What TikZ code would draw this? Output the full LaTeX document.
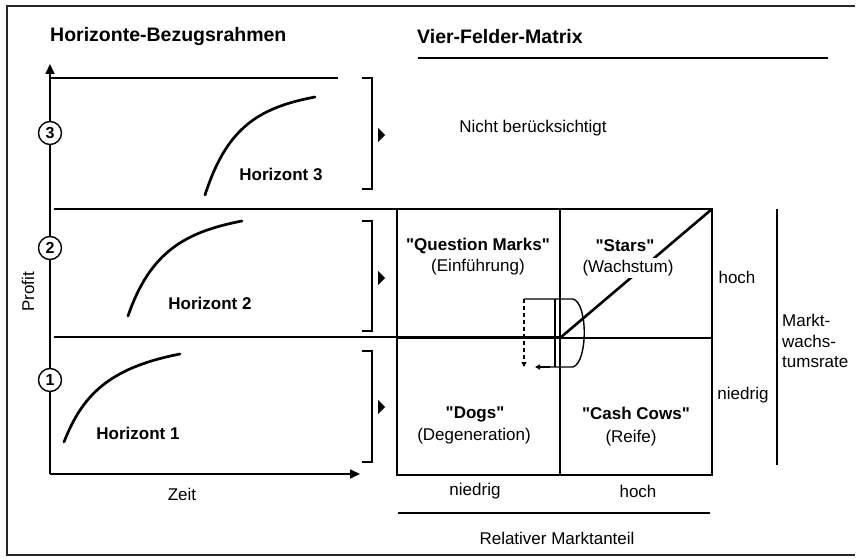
\documentclass[tikz,border=0pt]{standalone}
\usepackage{fontspec}
\setmainfont{Liberation Sans}
\usetikzlibrary{arrows.meta}
\tikzset{
  frameline/.style={line width=1.3pt, black!85},
  axisline/.style={line width=2pt, -{Triangle[length=10pt,width=9pt]}},
  thinline/.style={line width=1.3pt},
  thickline/.style={line width=2.6pt},
  curveline/.style={line width=2.7pt, line cap=round},
  bracketline/.style={line width=1.5pt},
  pointer/.style={fill=black},
  circnum/.style={circle, draw, line width=1.4pt, fill=white, inner sep=0pt, minimum size=23pt, font=\fontsize{16}{16}\selectfont\bfseries},
  lbl/.style={font=\fontsize{17}{20}\selectfont, inner sep=1pt},
  blbl/.style={font=\fontsize{17}{20}\selectfont\bfseries, inner sep=1pt},
  ttl/.style={font=\fontsize{19.5}{22}\selectfont\bfseries, inner sep=0pt, anchor=west},
  looparrow/.style={line width=1.4pt, -{Triangle[length=5pt,width=5pt]}},
}
\newcommand{\qq}[1]{\textquotedbl#1\textquotedbl}
\begin{document}
\begin{tikzpicture}[x=1pt,y=-1pt]
\useasboundingbox (0,0) rectangle (857,559);
% frame
\draw[frameline] (855,6) -- (7,6) -- (7,555) -- (855,555);
% titles
\node[ttl] (t1) at (50,37) {Horizonte-Bezugsrahmen};
\node[ttl] (t2) at (417,37) {Vier-Felder-Matrix};
\coordinate (u1) at (418,58); \coordinate (u2) at (828,58);
\draw[line width=1.7pt] (u1) -- (u2);
% axes
\coordinate (O) at (50,474);
\coordinate (Ytop) at (50,64);
\coordinate (Xend) at (360,474);
\draw[axisline] (O) -- (Ytop);
\draw[axisline] (O) -- (Xend);
\node[lbl, rotate=90] (profit) at (28,292) {Profit};
\node[lbl] (zeit) at (182,494) {Zeit};
% horizon separator lines
\draw[thinline] (50,78) -- (338,78);
\draw[thinline] (54,209) -- (712,209);
\draw[thickline] (54,337) -- (560,337);
% circled numbers
\node[circnum] (c3) at (50,133) {3};
\node[circnum] (c2) at (50,248) {2};
\node[circnum] (c1) at (50,380) {1};
% curves
\draw[curveline] (205,195) .. controls (226,130) and (256,108) .. (315,97);
\draw[curveline] (128,316) .. controls (150,252) and (185,232) .. (242,221);
\draw[curveline] (64,442) .. controls (82,396) and (108,368) .. (180,354);
\node[blbl] (h3) at (281,174) {Horizont 3};
\node[blbl] (h2) at (210,303) {Horizont 2};
\node[blbl] (h1) at (138,433) {Horizont 1};
% brackets
\draw[bracketline] (362,78) -- (372,78) -- (372,189) -- (362,189);
\draw[bracketline] (362,221) -- (372,221) -- (372,331) -- (362,331);
\draw[bracketline] (362,351) -- (372,351) -- (372,462) -- (362,462);
% pointers
\fill[pointer] (378,128) -- (385,135) -- (378,142) -- cycle;
\fill[pointer] (378,271) -- (385,278) -- (378,285) -- cycle;
\fill[pointer] (378,400) -- (385,407) -- (378,414) -- cycle;
\node[lbl] (nb) at (533,128) {Nicht berücksichtigt};
% matrix
\coordinate (mTL) at (397,209);
\coordinate (mBR) at (712,475);
\draw[thinline] (mTL) rectangle (mBR);
\draw[thinline] (560,209) -- (560,475);
\draw[thinline] (397,338) -- (712,338);
\coordinate (mc) at (560,338);
\coordinate (mtr) at (712,209);
\draw[thickline] (mc) -- (mtr);
% loop
\coordinate (lA) at (524,299);
\coordinate (lB) at (524,367);
\coordinate (lC) at (535,367);
\draw[line width=1.2pt] (555,299) -- (555,367);
\draw[line width=1.4pt] (lA) -- (573,299) .. controls (588,303) and (588,362) .. (573,367) -- (548,367);
\draw[looparrow] (550,367) -- (lC);
\draw[looparrow, dashed, dash pattern=on 4pt off 3pt] (lA) -- (lB);
% matrix labels
\node[blbl] (qm) at (478,246) {\qq{Question Marks}};
\node[lbl] (qm2) at (478,267) {(Einführung)};
\node[blbl] (st) at (625,246) {\qq{Stars}};
\node[lbl, fill=white, inner sep=2pt] (st2) at (628,268) {(Wachstum)};
\node[blbl] (dg) at (475,414) {\qq{Dogs}};
\node[lbl] (dg2) at (474,436) {(Degeneration)};
\node[blbl] (cc) at (636,413) {\qq{Cash Cows}};
\node[lbl] (cc2) at (631,438) {(Reife)};
\node[lbl] (hr) at (737,277) {hoch};
\node[lbl] (nr) at (743,395) {niedrig};
\node[lbl] (nb1) at (475,491) {niedrig};
\node[lbl] (hb1) at (638,491) {hoch};
\draw[line width=1.5pt] (398,513) -- (710,513);
\node[lbl] (rm) at (557,538) {Relativer Marktanteil};
\draw[line width=1.5pt] (777,209) -- (777,465);
\node[lbl, anchor=west, align=left, font=\fontsize{17}{20.5}\selectfont] (mw) at (781,341) {Markt-\\wachs-\\tumsrate};
\end{tikzpicture}
\end{document}
